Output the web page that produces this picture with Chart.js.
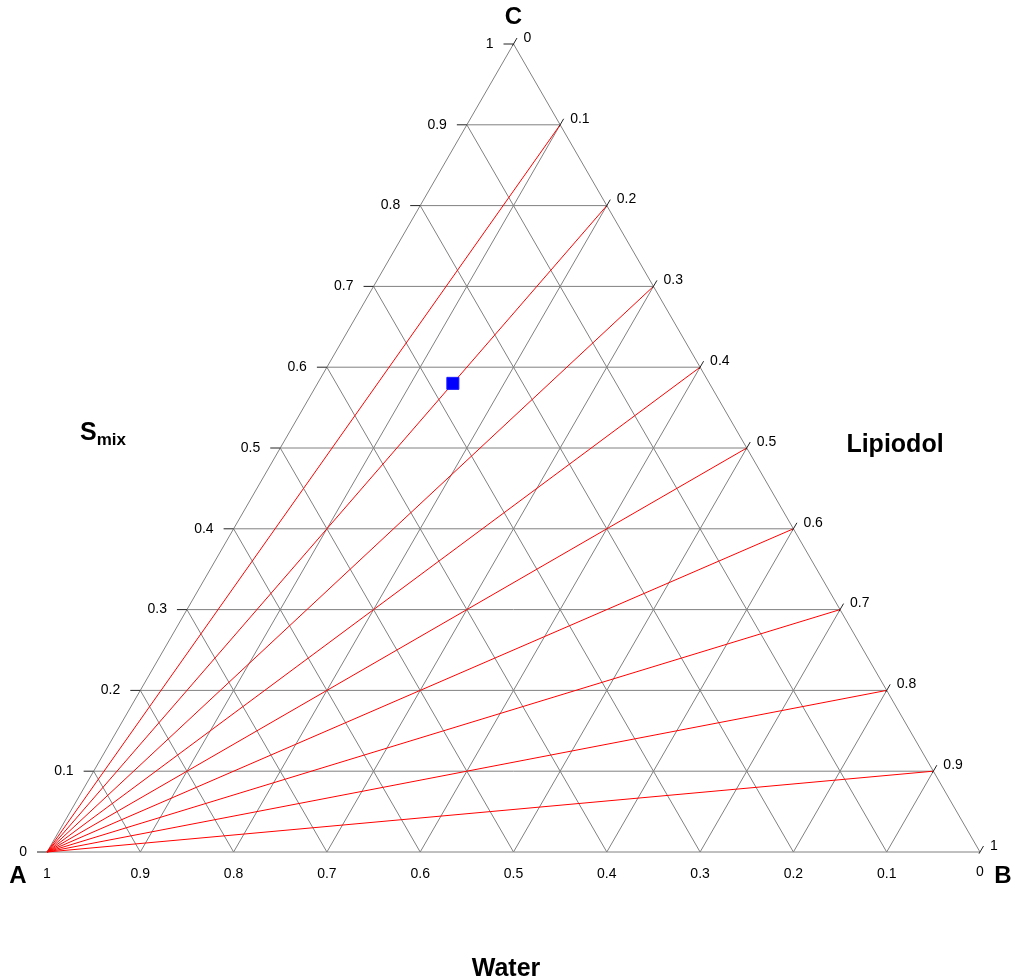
<!DOCTYPE html>
<html>
<head>
<meta charset="utf-8">
<script src="https://cdn.jsdelivr.net/npm/chart.js@4.4.1/dist/chart.umd.min.js"></script>
<style>
html,body{margin:0;padding:0;background:#fff;}
#wrap{width:1015px;height:980px;position:relative;}
</style>
</head>
<body>
<div id="wrap"><canvas id="c"></canvas></div>
<script>
// ---- data ----
const levels = [0.1, 0.2, 0.3, 0.4, 0.5, 0.6, 0.7, 0.8, 0.9];
const tickLabels = ["0", "0.1", "0.2", "0.3", "0.4", "0.5", "0.6", "0.7", "0.8", "0.9", "1"];
const tickValues = [0, 0.1, 0.2, 0.3, 0.4, 0.5, 0.6, 0.7, 0.8, 0.9, 1];
// red dilution lines: from Water vertex to points on Smix-Lipiodol edge (Lipiodol fraction)
const redLineLipiodol = [0.1, 0.2, 0.3, 0.4, 0.5, 0.6, 0.7, 0.8, 0.9];
// formulation point: [water, lipiodol, smix]
const pointWater = [0.275];
const pointLipiodol = [0.145];
const pointSmix = [0.58];
const vertexNames = ["A", "B", "C"];
const axisTitles = { left: "S", leftSub: "mix", right: "Lipiodol", bottom: "Water" };

// ternary (a=water, b=lipiodol, c=smix) -> cartesian
const H = Math.sqrt(3) / 2;
function tern(a, b, c) { return { x: b + c / 2, y: c * H }; }

const GREY = '#808080';
const datasets = [];
function seg(p, q, color, order) {
  datasets.push({
    type: 'line', data: [p, q], borderColor: color, borderWidth: 1,
    pointRadius: 0, showLine: true, fill: false, clip: false, tension: 0, order
  });
}
// edges
seg(tern(1,0,0), tern(0,1,0), GREY, 3);
seg(tern(0,1,0), tern(0,0,1), GREY, 3);
seg(tern(0,0,1), tern(1,0,0), GREY, 3);
// grid
levels.forEach(k => {
  seg(tern(1-k, 0, k), tern(0, 1-k, k), GREY, 3);   // constant smix
  seg(tern(1-k, k, 0), tern(0, k, 1-k), GREY, 3);   // constant lipiodol
  seg(tern(k, 1-k, 0), tern(k, 0, 1-k), GREY, 3);   // constant water
});
// red lines
redLineLipiodol.forEach(l => seg(tern(1,0,0), tern(0, l, 1-l), '#ff0000', 2));
// point
datasets.push({
  type: 'scatter', order: 0,
  data: pointWater.map((w, i) => tern(w, pointLipiodol[i], pointSmix[i])),
  pointStyle: 'rect', pointRadius: 8.5, backgroundColor: '#0000ff',
  borderColor: '#1a1aff', borderWidth: 1, clip: false
});

const labelPlugin = {
  id: 'ternLabels',
  afterDatasetsDraw(chart) {
    const ctx = chart.ctx, xs = chart.scales.x, ys = chart.scales.y;
    const P = (a, b, c) => { const t = tern(a, b, c); return { x: xs.getPixelForValue(t.x), y: ys.getPixelForValue(t.y) }; };
    ctx.save();
    ctx.strokeStyle = '#222';
    ctx.lineWidth = 1;
    ctx.fillStyle = '#000';
    ctx.font = '14px "Liberation Sans", Arial, sans-serif';
    tickValues.forEach((v, i) => {
      // left axis (Smix)
      let p = P(1 - v, 0, v);
      ctx.beginPath(); ctx.moveTo(p.x - 10, p.y); ctx.lineTo(p.x, p.y); ctx.stroke();
      ctx.textAlign = 'right'; ctx.textBaseline = 'middle';
      ctx.fillText(tickLabels[i], p.x - 20, p.y);
      // right axis (Lipiodol)
      p = P(0, v, 1 - v);
      ctx.beginPath(); ctx.moveTo(p.x - 1, p.y + 1.7); ctx.lineTo(p.x + 3.5, p.y - 6); ctx.stroke();
      ctx.textAlign = 'left'; ctx.textBaseline = 'middle';
      ctx.fillText(tickLabels[i], p.x + 10, p.y - 6);
      // bottom axis (Water)
      p = P(v, 1 - v, 0);
      ctx.textAlign = 'center'; ctx.textBaseline = 'middle';
      ctx.fillText(tickLabels[i], p.x, p.y + (i === 0 ? 20 : 22));
    });
    // vertex names
    ctx.font = 'bold 24px "Liberation Sans", Arial, sans-serif';
    ctx.textAlign = 'center'; ctx.textBaseline = 'alphabetic';
    let a = P(1,0,0), b = P(0,1,0), c = P(0,0,1);
    ctx.fillText(vertexNames[0], a.x - 29, a.y + 31);
    ctx.fillText(vertexNames[1], b.x + 23, b.y + 31);
    ctx.fillText(vertexNames[2], c.x, c.y - 20);
    // axis titles
    ctx.font = 'bold 25px "Liberation Sans", Arial, sans-serif';
    ctx.textAlign = 'left';
    ctx.fillText(axisTitles.left, 80, 440);
    const sw = ctx.measureText(axisTitles.left).width;
    ctx.font = 'bold 17px "Liberation Sans", Arial, sans-serif';
    ctx.fillText(axisTitles.leftSub, 80 + sw, 445);
    ctx.font = 'bold 25px "Liberation Sans", Arial, sans-serif';
    ctx.textAlign = 'center';
    ctx.fillText(axisTitles.right, 895, 452);
    ctx.fillText(axisTitles.bottom, 506, 976);
    ctx.restore();
  }
};

new Chart(document.getElementById('c'), {
  type: 'scatter',
  data: { datasets },
  options: {
    responsive: true, maintainAspectRatio: false, animation: false,
    layout: { padding: { left: 47, right: 35, top: 44, bottom: 128 } },
    plugins: { legend: { display: false }, tooltip: { enabled: false } },
    scales: {
      x: { type: 'linear', min: 0, max: 1, display: false },
      y: { type: 'linear', min: 0, max: H, display: false }
    }
  },
  plugins: [labelPlugin]
});
</script>
</body>
</html>
